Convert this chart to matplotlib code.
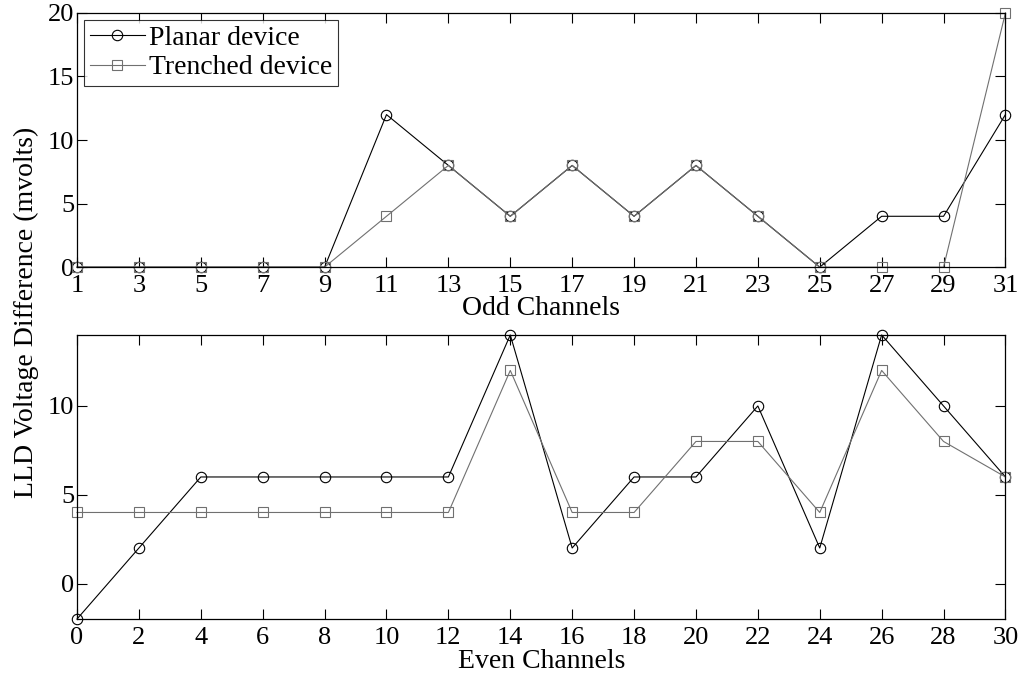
import numpy as np
import matplotlib.pyplot as plt

plt.rcParams['font.family'] = ['Liberation Serif', 'DejaVu Serif']

# odd channels (top panel)
odd_ch = [1, 3, 5, 7, 9, 11, 13, 15, 17, 19, 21, 23, 25, 27, 29, 31]
odd_planar = [0, 0, 0, 0, 0, 12, 8, 4, 8, 4, 8, 4, 0, 4, 4, 12]
odd_trenched = [0, 0, 0, 0, 0, 4, 8, 4, 8, 4, 8, 4, 0, 0, 0, 20]

# even channels (bottom panel)
even_ch = [0, 2, 4, 6, 8, 10, 12, 14, 16, 18, 20, 22, 24, 26, 28, 30]
even_planar = [-2, 2, 6, 6, 6, 6, 6, 14, 2, 6, 6, 10, 2, 14, 10, 6]
even_trenched = [4, 4, 4, 4, 4, 4, 4, 12, 4, 4, 8, 8, 4, 12, 8, 6]

fs = 20
tick_fs = 19
planar_style = dict(color='black', lw=0.8, marker='o', ms=7.5, mfc='none', mec='black', mew=0.8, clip_on=False)
trench_style = dict(color='#707070', lw=0.8, marker='s', ms=7.5, mfc='none', mec='#707070', mew=0.8, clip_on=False)

fig = plt.figure(figsize=(10.27, 6.78), dpi=100)
ax1 = fig.add_axes([0.075, 0.606, 0.904, 0.375])
ax2 = fig.add_axes([0.075, 0.087, 0.904, 0.419])

ax1.plot(odd_ch, odd_planar, label='Planar device', **planar_style)
ax1.plot(odd_ch, odd_trenched, label='Trenched device', **trench_style)
ax1.set_xlim(1, 31)
ax1.set_ylim(0, 20)
ax1.set_xticks(odd_ch)
ax1.set_yticks([0, 5, 10, 15, 20])
ax1.set_xlabel('Odd Channels', fontsize=fs, labelpad=-1)
leg = ax1.legend(loc='upper left', fontsize=fs, frameon=True, fancybox=False,
                 edgecolor='black', borderaxespad=0.25, handlelength=2.0,
                 handletextpad=0.15, borderpad=0.2, labelspacing=0.15)
leg.get_frame().set_linewidth(0.8)

ax2.plot(even_ch, even_planar, **planar_style)
ax2.plot(even_ch, even_trenched, **trench_style)
ax2.set_xlim(0, 30)
ax2.set_ylim(-2, 14)
ax2.set_xticks(even_ch)
ax2.set_yticks([0, 5, 10])
ax2.set_xlabel('Even Channels', fontsize=fs, labelpad=0)

for ax in (ax1, ax2):
    ax.tick_params(direction='in', top=True, right=True, length=7, width=0.8,
                   labelsize=tick_fs, pad=2)
    ax.tick_params(axis='x', pad=6)
    for sp in ax.spines.values():
        sp.set_linewidth(0.9)

fig.text(0.026, 0.54, 'LLD Voltage Difference (mvolts)', rotation=90,
         ha='center', va='center', fontsize=fs)

fig.savefig('out.png', dpi=100)
